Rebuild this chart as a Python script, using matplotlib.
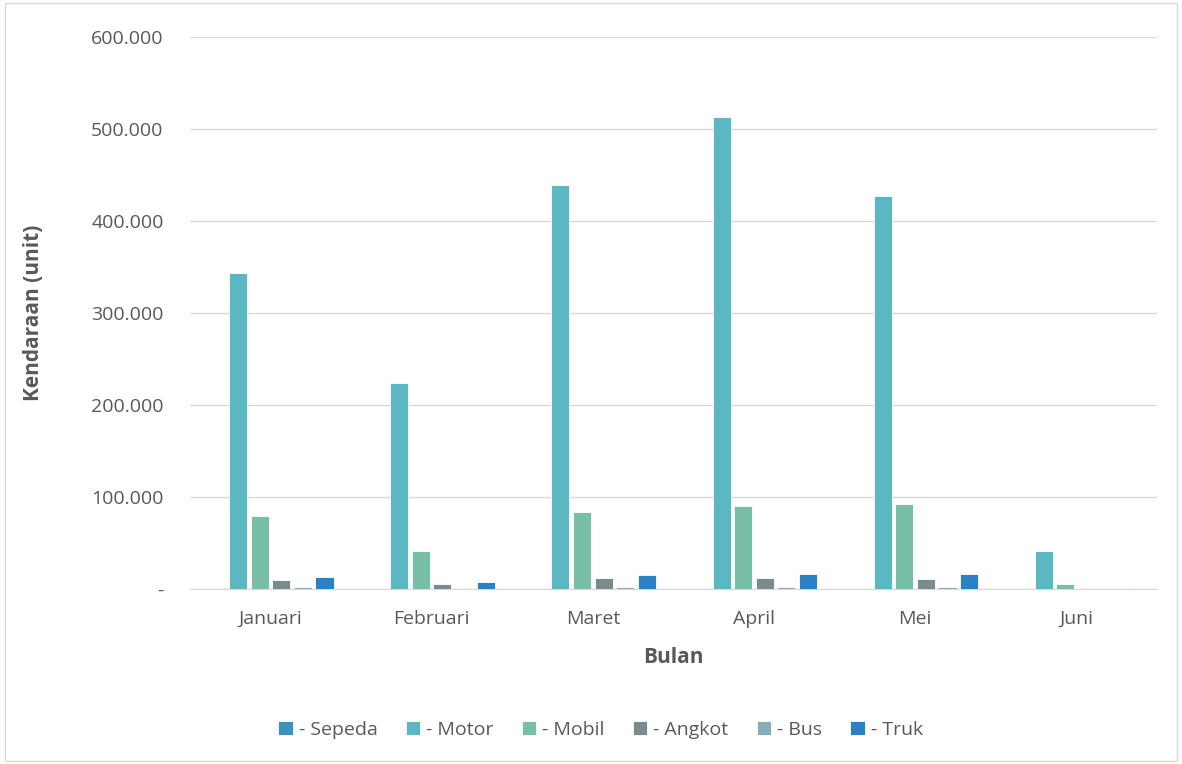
import matplotlib.pyplot as plt
import numpy as np
from matplotlib.ticker import FuncFormatter

bulan = ['Januari', 'Februari', 'Maret', 'April', 'Mei', 'Juni']
sepeda = [800, 0, 600, 700, 700, 0]
motor = [343000, 224000, 439000, 513000, 427000, 41000]
mobil = [79000, 41000, 84000, 90000, 92000, 5500]
angkot = [9800, 5400, 12300, 12300, 11200, 800]
bus = [1800, 500, 2200, 2200, 2200, 0]
truk = [13400, 7600, 15200, 16600, 16000, 900]

series = [('- Sepeda', sepeda, '#3A93BD'),
          ('- Motor', motor, '#5BB7C1'),
          ('- Mobil', mobil, '#77BFA6'),
          ('- Angkot', angkot, '#7A8B8D'),
          ('- Bus', bus, '#86ADB9'),
          ('- Truk', truk, '#2A81C7')]

plt.rcParams['font.family'] = ['Open Sans', 'DejaVu Sans']
txt = '#595959'

fig = plt.figure(figsize=(11.82, 7.64), dpi=100)
ax = fig.add_axes([0.1607, 0.229, 0.818, 0.7226])

x = np.arange(len(bulan))
step = 0.134
w = 0.112
for i, (name, vals, col) in enumerate(series):
    ax.bar(x + (i - 2.5) * step, vals, w, color=col, label=name,
           edgecolor='white', linewidth=0.6, zorder=3)

ax.set_ylim(0, 600000)
ax.set_xlim(-0.5, len(bulan) - 0.5)
ax.set_yticks(np.arange(0, 600001, 100000))
ax.yaxis.set_major_formatter(FuncFormatter(
    lambda v, p: '-' if v == 0 else f'{int(v):,}'.replace(',', '.')))
ax.grid(axis='y', color='#D9D9D9', linewidth=1, zorder=0)
for s in ['top', 'right', 'left']:
    ax.spines[s].set_visible(False)
ax.spines['bottom'].set_color('#D9D9D9')
ax.tick_params(axis='both', length=0, labelsize=14, colors=txt)
ax.tick_params(axis='y', pad=19)
ax.tick_params(axis='x', pad=15)
ax.set_xticks(x)
ax.set_xticklabels(bulan)

ax.set_xlabel('Bulan', fontsize=15, fontweight='bold', color=txt, labelpad=14)
ax.set_ylabel('Kendaraan (unit)', fontsize=15, fontweight='bold', color=txt, labelpad=34)

ax.legend(loc='center', bbox_to_anchor=(0.508, 0.045), bbox_transform=fig.transFigure,
          ncol=6, frameon=False, fontsize=14, labelcolor=txt,
          handlelength=0.75, handleheight=0.75, handletextpad=0.3, columnspacing=1.45)

fig.patches.append(plt.Rectangle((0.004, 0.004), 0.992, 0.992, transform=fig.transFigure,
                                 fill=False, edgecolor='#D9D9D9', linewidth=1))

fig.savefig('out.png', dpi=100)
